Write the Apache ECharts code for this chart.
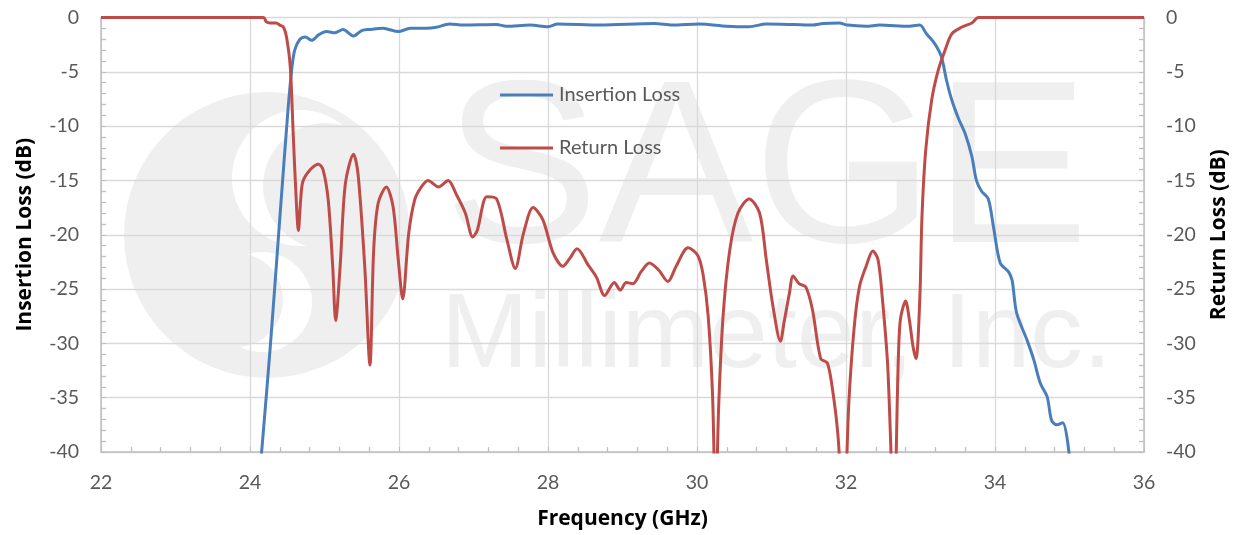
<!DOCTYPE html>
<html>
<head>
<meta charset="utf-8">
<script src="https://cdn.jsdelivr.net/npm/echarts@6/dist/echarts.min.js"></script>
<style>
html,body{margin:0;padding:0;background:#fff;}
#chart{width:1245px;height:535px;}
</style>
</head>
<body>
<div id="chart"></div>
<script>
// ---- Data ----
const xTicks = [22, 24, 26, 28, 30, 32, 34, 36];
const yTicks = [0, -5, -10, -15, -20, -25, -30, -35, -40];

// Return Loss (red)
const rlFreq = [22.0, 24.18, 24.22, 24.27, 24.35, 24.40, 24.45, 24.49, 24.54, 24.58, 24.61, 24.65, 24.68, 24.71, 24.81, 24.92, 24.98, 25.05, 25.11, 25.15, 25.21, 25.28, 25.39, 25.45, 25.54, 25.61, 25.66, 25.72, 25.83, 25.92, 25.99, 26.05, 26.13, 26.21, 26.30, 26.39, 26.53, 26.66, 26.77, 26.89, 26.99, 27.05, 27.18, 27.31, 27.45, 27.56, 27.67, 27.80, 27.93, 28.07, 28.20, 28.29, 28.39, 28.54, 28.65, 28.76, 28.89, 28.97, 29.05, 29.14, 29.25, 29.36, 29.48, 29.61, 29.72, 29.88, 30.01, 30.08, 30.15, 30.21, 30.25, 30.29, 30.35, 30.44, 30.55, 30.70, 30.84, 30.93, 31.02, 31.12, 31.17, 31.24, 31.29, 31.37, 31.46, 31.55, 31.66, 31.75, 31.82, 31.89, 31.97, 32.04, 32.11, 32.18, 32.27, 32.36, 32.43, 32.49, 32.56, 32.645, 32.70, 32.73, 32.80, 32.85, 32.90, 32.94, 32.99, 33.02, 33.07, 33.15, 33.24, 33.33, 33.42, 33.55, 33.69, 33.78, 36.0];
const rlDb   = [0, 0, -0.4, -0.5, -0.5, -0.7, -0.9, -1.8, -4.5, -10.7, -15.3, -19.6, -16.8, -15.1, -14.0, -13.5, -14.0, -16.8, -22.9, -27.9, -22.9, -15.3, -12.6, -14.4, -22.9, -32.0, -21.4, -17.1, -15.6, -17.4, -22.3, -25.9, -19.9, -16.8, -15.6, -15.0, -15.6, -15.0, -16.3, -18.0, -20.2, -19.6, -16.5, -16.7, -20.5, -23.1, -19.9, -17.5, -18.6, -21.7, -22.9, -22.2, -21.3, -22.8, -23.9, -25.6, -24.4, -25.1, -24.4, -24.5, -23.4, -22.6, -23.2, -24.3, -22.9, -21.2, -21.9, -23.6, -27.5, -35.0, -46.0, -36.0, -27.5, -21.4, -18.0, -16.7, -18.0, -22.3, -26.6, -29.8, -28.0, -25.4, -23.8, -24.5, -24.8, -26.9, -31.4, -31.8, -34.3, -38.3, -46.0, -35.2, -28.5, -24.8, -22.9, -21.5, -22.3, -26.0, -32.1, -46.0, -32.0, -27.8, -26.1, -27.8, -30.3, -31.4, -26.0, -18.3, -12.2, -7.6, -4.8, -3.0, -1.5, -0.9, -0.5, 0, 0];

// Insertion Loss (blue)
const ilFreq = [24.15, 24.27, 24.40, 24.51, 24.56, 24.60, 24.67, 24.74, 24.83, 24.92, 25.03, 25.14, 25.25, 25.39, 25.50, 25.61, 25.79, 25.86, 25.99, 26.15, 26.37, 26.50, 26.68, 26.86, 27.31, 27.44, 27.76, 28.00, 28.13, 28.70, 29.43, 29.67, 30.03, 30.40, 30.70, 30.93, 31.30, 31.55, 31.69, 31.91, 32.02, 32.27, 32.45, 32.85, 32.99, 33.08, 33.19, 33.28, 33.35, 33.42, 33.51, 33.60, 33.69, 33.75, 33.82, 33.91, 33.98, 34.07, 34.18, 34.23, 34.29, 34.43, 34.52, 34.61, 34.70, 34.76, 34.83, 34.91, 35.00];
const ilDb   = [-40.5, -30.5, -18.5, -8.5, -4.8, -3.0, -2.0, -1.8, -2.1, -1.6, -1.3, -1.4, -1.1, -1.7, -1.2, -1.1, -1.0, -1.1, -1.3, -1.0, -1.0, -0.9, -0.6, -0.7, -0.65, -0.8, -0.7, -0.85, -0.6, -0.7, -0.55, -0.7, -0.6, -0.8, -0.85, -0.6, -0.65, -0.7, -0.55, -0.5, -0.7, -0.8, -0.7, -0.8, -0.7, -1.5, -2.4, -3.6, -5.8, -7.6, -9.3, -10.7, -12.8, -15.0, -16.0, -16.7, -19.3, -22.6, -23.4, -24.2, -27.2, -29.7, -31.5, -33.7, -34.9, -37.1, -37.5, -37.3, -40.5];

const seriesNames = ['Insertion Loss', 'Return Loss'];
const seriesColors = ['#4a7ebb', '#be4b48'];

// ---- Chart ----
const chart = echarts.init(document.getElementById('chart'), null, {renderer: 'canvas'});
const ilData = ilFreq.map((f, i) => [f, ilDb[i]]);
const rlData = rlFreq.map((f, i) => [f, rlDb[i]]);

const labelFont = 'Lato, "Open Sans", sans-serif';
const nameFont = '"Open Sans", "Noto Sans", sans-serif';
const wm = '#efefef';

const yAxisBase = {
  type: 'value', min: yTicks[yTicks.length - 1], max: yTicks[0], interval: 5,
  axisLine: {show: true, lineStyle: {color: '#bfbfbf', width: 1.5}},
  axisTick: {show: true, inside: true, length: 5, lineStyle: {color: '#bfbfbf'}},
  minorTick: {show: true, splitNumber: 5, length: 5, lineStyle: {color: '#bfbfbf', width: 1.3}},
  axisLabel: {color: '#595959', fontSize: 19.5, fontFamily: labelFont, margin: 22},
  nameLocation: 'middle', nameRotate: 90,
  nameTextStyle: {color: '#000', fontSize: 21, fontWeight: 'bold', fontFamily: nameFont}
};

chart.setOption({
  animation: false,
  backgroundColor: '#fff',
  color: seriesColors,
  grid: {left: 101, right: 101, top: 17.5, bottom: 83},
  graphic: [
    {type: 'circle', z: -10, shape: {cx: 267, cy: 235, r: 143}, style: {fill: wm}},
    {type: 'circle', z: -9, shape: {cx: 300, cy: 178, r: 68}, style: {fill: '#fff'}},
    {type: 'circle', z: -8, shape: {cx: 326, cy: 186, r: 63}, style: {fill: wm}},
    {type: 'circle', z: -9, shape: {cx: 262, cy: 302, r: 50}, style: {fill: '#fff'}},
    {type: 'circle', z: -8, shape: {cx: 236, cy: 300, r: 47}, style: {fill: wm}},
    {type: 'text', z: -10, x: 444, y: 178, style: {text: 'SAGE', fill: wm, font: '232px "Liberation Sans", Arial, sans-serif', verticalAlign: 'middle', align: 'left'}},
    {type: 'text', z: -10, x: 441, y: 338, style: {text: 'Millimeter, Inc.', fill: wm, font: '105px "Liberation Sans", Arial, sans-serif', verticalAlign: 'middle', align: 'left'}}
  ],
  legend: {
    show: true, orient: 'vertical', left: 500, top: 83, padding: 0,
    icon: 'rect', itemWidth: 53, itemHeight: 3, itemGap: 29,
    textStyle: {color: '#595959', fontSize: 20, fontFamily: labelFont, lineHeight: 24, padding: [0, 0, 0, 1]},
    data: seriesNames
  },
  xAxis: {
    type: 'value', min: xTicks[0], max: xTicks[xTicks.length - 1], interval: 2,
    axisLine: {show: true, onZero: false, lineStyle: {color: '#bfbfbf', width: 1.5}},
    axisTick: {show: true, inside: true, length: 5, lineStyle: {color: '#bfbfbf'}},
    minorTick: {show: true, splitNumber: 5, length: 5, lineStyle: {color: '#bfbfbf', width: 1.3}},
    splitLine: {show: true, lineStyle: {color: '#d9d9d9', width: 1.3}},
    axisLabel: {color: '#595959', fontSize: 19.5, fontFamily: labelFont, margin: 21},
    name: 'Frequency (GHz)', nameLocation: 'middle', nameGap: 57,
    nameTextStyle: {color: '#000', fontSize: 21, fontWeight: 'bold', fontFamily: nameFont}
  },
  yAxis: [
    Object.assign({}, yAxisBase, {
      position: 'left', name: 'Insertion Loss (dB)', nameGap: 65,
      splitLine: {show: true, lineStyle: {color: '#d9d9d9', width: 1.3}}
    }),
    Object.assign({}, yAxisBase, {
      position: 'right', name: 'Return Loss (dB)', nameGap: 65,
      splitLine: {show: false}
    })
  ],
  series: [
    {
      name: seriesNames[0], type: 'line', yAxisIndex: 0, data: ilData,
      showSymbol: false, symbol: 'none', smooth: 0.3, clip: true, z: 3,
      lineStyle: {width: 3, color: seriesColors[0]}, itemStyle: {color: seriesColors[0]}
    },
    {
      name: seriesNames[1], type: 'line', yAxisIndex: 1, data: rlData,
      showSymbol: false, symbol: 'none', smooth: 0.3, clip: true, z: 4,
      lineStyle: {width: 3, color: seriesColors[1]}, itemStyle: {color: seriesColors[1]}
    }
  ]
});
</script>
</body>
</html>
